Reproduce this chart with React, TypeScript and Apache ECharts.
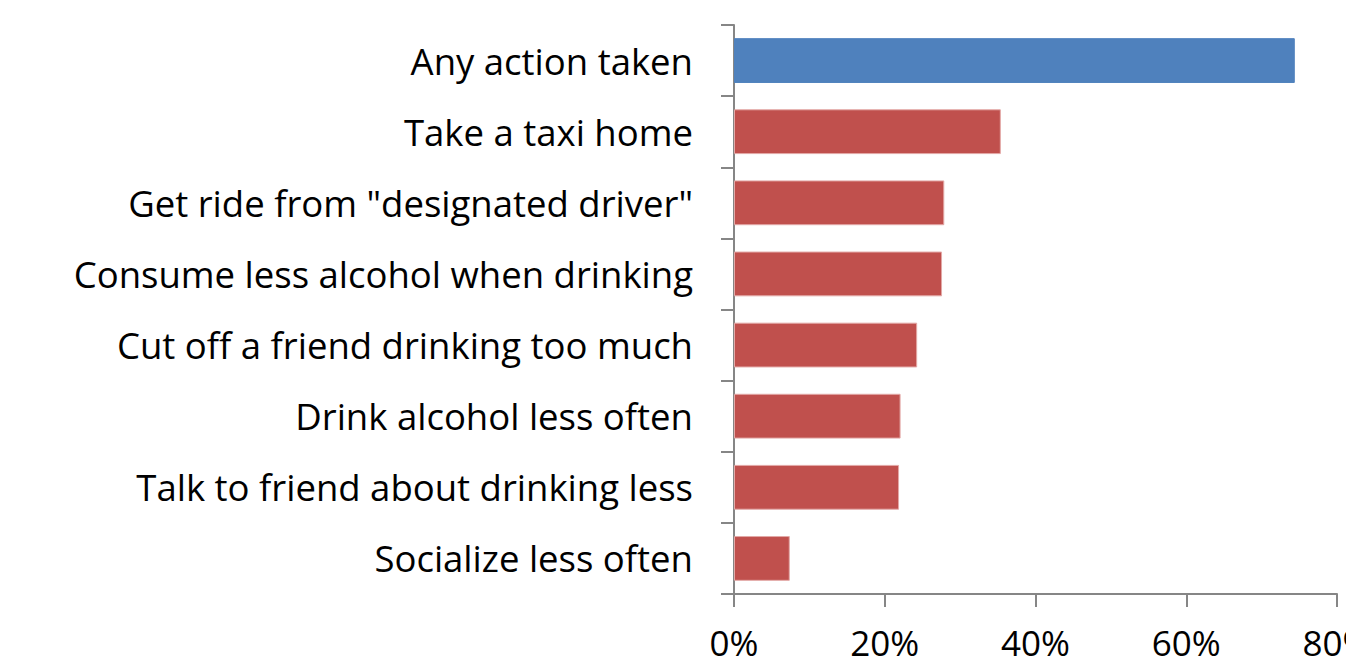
import React, { useEffect, useRef } from "react";
import * as echarts from "echarts";

// Actions taken, listed top to bottom
const categories = [
  "Any action taken",
  "Take a taxi home",
  'Get ride from "designated driver"',
  "Consume less alcohol when drinking",
  "Cut off a friend drinking too much",
  "Drink alcohol less often",
  "Talk to friend about drinking less",
  "Socialize less often",
];

// Share of respondents (fraction)
const shares = [0.744, 0.354, 0.279, 0.276, 0.243, 0.221, 0.219, 0.074];

const xTicks = [0, 0.2, 0.4, 0.6, 0.8];

const TOTAL_COLOR = "#4F81BD";
const ITEM_COLOR = "#C0504D";
const AXIS_COLOR = "#868686";
const FONT = "'Open Sans', sans-serif";

export default function App() {
  const ref = useRef<HTMLDivElement>(null);

  useEffect(() => {
    if (!ref.current) return;
    const chart = echarts.init(ref.current, undefined, { renderer: "svg" });
    chart.setOption({
      animation: false,
      grid: {
        left: 734,
        right: 9,
        top: 25,
        bottom: 71,
        containLabel: false,
        outerBoundsMode: "none",
      },
      xAxis: {
        type: "value",
        min: xTicks[0],
        max: xTicks[xTicks.length - 1],
        interval: 0.2,
        splitLine: { show: false },
        axisLine: { show: true, lineStyle: { color: AXIS_COLOR, width: 2 } },
        axisTick: { show: true, length: 13, lineStyle: { color: AXIS_COLOR, width: 2 } },
        axisLabel: {
          formatter: (v: number) => `${Math.round(v * 100)}%`,
          color: "#000",
          fontFamily: FONT,
          fontSize: 35,
          lineHeight: 35,
          margin: 31,
          showMaxLabel: true,
        },
      },
      yAxis: {
        type: "category",
        data: categories,
        inverse: true,
        axisLine: { show: true, lineStyle: { color: AXIS_COLOR, width: 2 } },
        axisTick: { show: true, length: 13, lineStyle: { color: AXIS_COLOR, width: 2 } },
        axisLabel: {
          color: "#000",
          fontFamily: FONT,
          fontSize: 36.5,
          margin: 41,
        },
      },
      series: [
        {
          type: "bar",
          data: shares.map((v, i) => ({
            value: v,
            itemStyle: {
              color: i === 0 ? TOTAL_COLOR : ITEM_COLOR,
              borderColor: i === 0 ? TOTAL_COLOR : "#E3A9A7",
              borderWidth: 1,
            },
          })),
          barCategoryGap: "37%",
        },
      ],
    });
    return () => chart.dispose();
  }, []);

  return (
    <div
      ref={ref}
      style={{ position: "absolute", left: 0, top: 0, width: 1346, height: 665, background: "#fff" }}
    />
  );
}
